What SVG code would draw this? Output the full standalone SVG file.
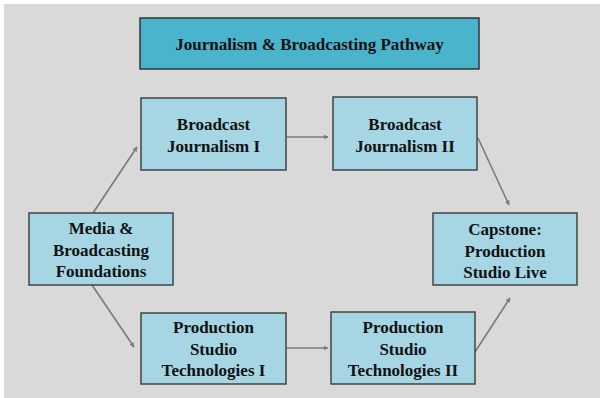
<svg xmlns="http://www.w3.org/2000/svg" width="600" height="398" viewBox="0 0 600 398">
<style>
.box{fill:#a6d6e4;stroke:#3a3a3a;stroke-width:1.4}
.title{fill:#4bb4cd;stroke:#2a2a2a;stroke-width:1.4}
.t{font-family:"Liberation Serif","Times New Roman",serif;font-weight:bold;font-size:17px;fill:#111;text-anchor:middle}
.c{stroke:#7a7a7a;stroke-width:1.6;fill:none;marker-end:url(#ah)}
</style>
<defs>
<marker id="ah" viewBox="0 0 10 10" refX="9" refY="5" markerWidth="5" markerHeight="5" orient="auto" markerUnits="userSpaceOnUse">
<path d="M0,0 L10,5 L0,10 z" fill="#7a7a7a"/>
</marker>
</defs>
<rect x="0" y="0" width="600" height="398" fill="#ffffff"/>
<rect x="4" y="4" width="596" height="394" fill="#d9d9d9"/>
<g id="connectors">
<line class="c" x1="93" y1="213" x2="137" y2="147"/>
<line class="c" x1="286" y1="137" x2="328" y2="137"/>
<line class="c" x1="478" y1="138" x2="509" y2="205"/>
<line class="c" x1="92" y1="285" x2="134" y2="347"/>
<line class="c" x1="286" y1="348" x2="328" y2="348"/>
<line class="c" x1="475" y1="352" x2="510" y2="298"/>
</g>
<g id="title">
<rect class="title" x="140" y="18" width="339" height="51"/>
<text class="t" x="309.5" y="50">Journalism &amp; Broadcasting Pathway</text>
</g>
<g id="media">
<rect class="box" x="29" y="213" width="144" height="72"/>
<text class="t" x="101" y="234">Media &amp;</text>
<text class="t" x="101" y="255.5">Broadcasting</text>
<text class="t" x="101" y="277">Foundations</text>
</g>
<g id="bj1">
<rect class="box" x="141" y="98" width="145" height="72"/>
<text class="t" x="213.5" y="130">Broadcast</text>
<text class="t" x="213.5" y="152">Journalism I</text>
</g>
<g id="bj2">
<rect class="box" x="333" y="97" width="144" height="73"/>
<text class="t" x="405" y="130">Broadcast</text>
<text class="t" x="405" y="152">Journalism II</text>
</g>
<g id="capstone">
<rect class="box" x="433" y="213" width="144" height="72"/>
<text class="t" x="505" y="235">Capstone:</text>
<text class="t" x="505" y="256.5">Production</text>
<text class="t" x="505" y="278">Studio Live</text>
</g>
<g id="pst1">
<rect class="box" x="141" y="313" width="145" height="71"/>
<text class="t" x="213.5" y="333">Production</text>
<text class="t" x="213.5" y="354.5">Studio</text>
<text class="t" x="213.5" y="376">Technologies I</text>
</g>
<g id="pst2">
<rect class="box" x="331" y="312" width="144" height="72"/>
<text class="t" x="403" y="333">Production</text>
<text class="t" x="403" y="354.5">Studio</text>
<text class="t" x="403" y="376">Technologies II</text>
</g>
</svg>
